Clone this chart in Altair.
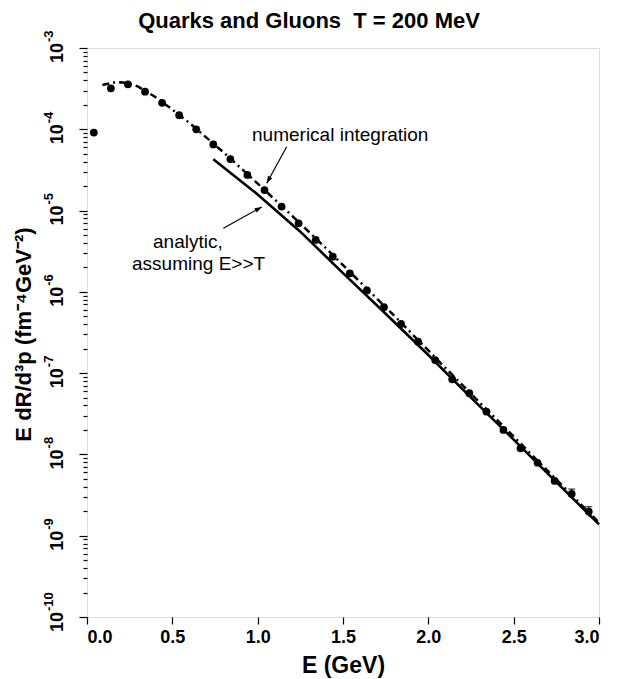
import altair as alt
import pandas as pd

FONT = "Liberation Sans"

title_text = "Quarks and Gluons\u00a0\u00a0T = 200 MeV"
x_title = "E (GeV)"
y_title = "E dR/d\u00b3p (fm\u207b\u2074GeV\u207b\u00b2)"

# computed points (dots)
point_E = [0.04, 0.14, 0.24, 0.34, 0.44, 0.54, 0.64, 0.74, 0.84, 0.94,
           1.04, 1.14, 1.24, 1.34, 1.44, 1.54, 1.64, 1.74, 1.84, 1.94,
           2.04, 2.14, 2.24, 2.34, 2.44, 2.54, 2.64, 2.74, 2.84, 2.94]
point_rate = [9.1e-5, 3.19e-4, 3.58e-4, 2.90e-4, 2.12e-4, 1.49e-4, 1.00e-4, 6.5e-5, 4.3e-5, 2.74e-5,
              1.79e-5, 1.12e-5, 6.98e-6, 4.35e-6, 2.71e-6, 1.69e-6, 1.04e-6, 6.47e-7, 4.03e-7, 2.44e-7,
              1.45e-7, 8.4e-8, 5.66e-8, 3.37e-8, 2.0e-8, 1.19e-8, 7.9e-9, 4.72e-9, 3.27e-9, 1.98e-9]

# small error bars on the last points
err_E = [2.84, 2.94]
err_low = [2.85e-9, 1.72e-9]
err_high = [3.75e-9, 2.28e-9]

# numerical integration (dash-dot curve)
numint_E = [0.09, 0.15, 0.2, 0.25, 0.3, 0.4, 0.5, 0.6, 0.7, 0.8, 0.9, 1.0,
            1.2, 1.4, 1.6, 1.8, 2.0, 2.2, 2.4, 2.6, 2.8, 3.0]
numint_rate = [3.5e-4, 3.75e-4, 3.78e-4, 3.65e-4, 3.35e-4, 2.5e-4, 1.75e-4, 1.2e-4, 7.9e-5, 5.2e-5,
               3.35e-5, 2.15e-5, 8.7e-6, 3.45e-6, 1.32e-6, 5.1e-7, 1.9e-7, 7.1e-8, 2.7e-8, 1.02e-8,
               3.85e-9, 1.45e-9]

# analytic, assuming E>>T (solid line)
analytic_E = [0.74, 1.0, 1.25, 1.5, 1.75, 2.0, 2.25, 2.5, 2.75, 3.0]
analytic_rate = [4.27e-5, 1.58e-5, 5.5e-6, 1.70e-6, 5.37e-7, 1.67e-7, 5.0e-8, 1.52e-8, 4.57e-9, 1.38e-9]

# annotations
ann_text = ["numerical integration", "analytic,", "assuming E>>T"]
ann_E = [0.967, 0.387, 0.264]
ann_rate = [7.18e-5, 3.47e-6, 1.86e-6]

arrow_tail_E = [1.170, 0.799]
arrow_tail_rate = [6.11e-5, 6.05e-6]
arrow_head_E = [1.053, 1.024]
arrow_head_rate = [2.17e-5, 1.107e-5]
arrow_angle = [208.6, 61.0]

# axis ticks and labels
x_tick_values = [0.0, 0.5, 1.0, 1.5, 2.0, 2.5, 3.0]
y_decade_exps = [-10, -9, -8, -7, -6, -5, -4, -3]
y_decades = [10.0 ** e for e in y_decade_exps]
y_label_base = ["10"] * len(y_decade_exps)
y_label_exp = [str(e) for e in y_decade_exps]
y_tick_values = [float(f"{m}e{e}") for e in y_decade_exps[:-1] for m in range(1, 10)] + [1e-3]

expo = "round(log(datum.value)/LN10)"
decade_test = f"abs(log(datum.value)/LN10 - {expo}) < 0.001"

x_scale = alt.Scale(domain=[0, 3], nice=False, zero=False)
y_scale = alt.Scale(type="log", domain=[1e-10, 1e-3], nice=False)

x_axis = alt.Axis(values=x_tick_values, format=".1f", title=x_title, grid=False, domain=False,
                  tickSize=7, tickWidth=1.2, tickColor="black",
                  labelFont=FONT, labelFontSize=18, labelFontWeight="bold", labelColor="black",
                  labelPadding=4, labelFlush=True,
                  titleFont=FONT, titleFontSize=23, titleFontWeight="bold", titleColor="black",
                  titleY=55, titleBaseline="alphabetic")

y_axis = alt.Axis(values=y_tick_values, labels=False, title=y_title, grid=False, domain=False,
                  tickSize={"condition": {"test": decade_test, "value": 8}, "value": 4},
                  tickWidth=1.2, tickColor="black",
                  titleFont=FONT, titleFontSize=22, titleFontWeight="bold", titleColor="black",
                  titleAngle=270, titleAlign="center", titleBaseline="middle",
                  titleX=-64, titleY=286)

x_enc = alt.X("E:Q", scale=x_scale, axis=x_axis)
y_enc = alt.Y("rate:Q", scale=y_scale, axis=y_axis)

pts = pd.DataFrame({"E": point_E, "rate": point_rate})
num = pd.DataFrame({"E": numint_E, "rate": numint_rate})
ana = pd.DataFrame({"E": analytic_E, "rate": analytic_rate})
err = pd.DataFrame({"E": err_E, "rate": err_low, "rate_hi": err_high})
ann = pd.DataFrame({"E": ann_E, "rate": ann_rate, "label": ann_text})
arr = pd.DataFrame({"E": arrow_tail_E, "rate": arrow_tail_rate,
                    "E_end": arrow_head_E, "rate_end": arrow_head_rate, "angle": arrow_angle})
ylab = pd.DataFrame({"rate": y_decades, "base": y_label_base, "exp": y_label_exp})

line_num = alt.Chart(num).mark_line(color="black", strokeWidth=2.5, strokeDash=[7, 4, 2, 4]).encode(x=x_enc, y=y_enc)
line_ana = alt.Chart(ana).mark_line(color="black", strokeWidth=2.6).encode(x=x_enc, y=y_enc)
errbars = alt.Chart(err).mark_rule(color="black", strokeWidth=1.2).encode(x=x_enc, y=y_enc, y2="rate_hi:Q")
caps = alt.Chart(err).mark_tick(color="black", orient="horizontal", size=7, thickness=1.3).encode(
    x=x_enc, y=alt.Y("rate_hi:Q", scale=y_scale, axis=y_axis))
dots = alt.Chart(pts).mark_circle(color="black", size=60, opacity=1).encode(x=x_enc, y=y_enc)
arrows = alt.Chart(arr).mark_rule(color="black", strokeWidth=1.2).encode(
    x=x_enc, y=y_enc, x2="E_end:Q", y2="rate_end:Q")
heads = alt.Chart(arr).mark_point(shape="M -0.35 1 L 0 0 L 0.35 1 Z", filled=True, color="black",
                                  size=200, opacity=1, strokeWidth=0).encode(
    x=alt.X("E_end:Q", scale=x_scale, axis=x_axis),
    y=alt.Y("rate_end:Q", scale=y_scale, axis=y_axis),
    angle=alt.Angle("angle:Q", scale=None))
texts = alt.Chart(ann).mark_text(align="left", baseline="alphabetic", font=FONT, fontSize=19,
                                 color="black").encode(x=x_enc, y=y_enc, text="label:N")

# y tick labels: "10" with raised exponent, rotated
ylab_base = alt.Chart(ylab).mark_text(angle=270, align="center", baseline="alphabetic", font=FONT,
                                      fontSize=18, fontWeight="bold", color="black", dx=-5).encode(
    x=alt.value(-24), y=y_enc, text="base:N")
ylab_exp = alt.Chart(ylab).mark_text(angle=270, align="left", baseline="alphabetic", font=FONT,
                                     fontSize=13, fontWeight="bold", color="black", dx=6, dy=-10).encode(
    x=alt.value(-24), y=y_enc, text="exp:N")

chart = alt.layer(line_num, line_ana, errbars, caps, dots, arrows, heads, texts,
                  ylab_base, ylab_exp).properties(
    width=512, height=569,
    title=alt.TitleParams(text=title_text, font=FONT, fontSize=22, fontWeight="bold", color="black",
                          anchor="middle", dx=-34, offset=-3),
    padding={"left": 87, "top": 48, "right": 20, "bottom": 62},
    autosize=alt.AutoSizeParams(type="none"),
).configure_view(stroke="black", strokeWidth=2).configure(background="white")

chart.save("out.html", embed_options={"renderer": "svg", "actions": False})
